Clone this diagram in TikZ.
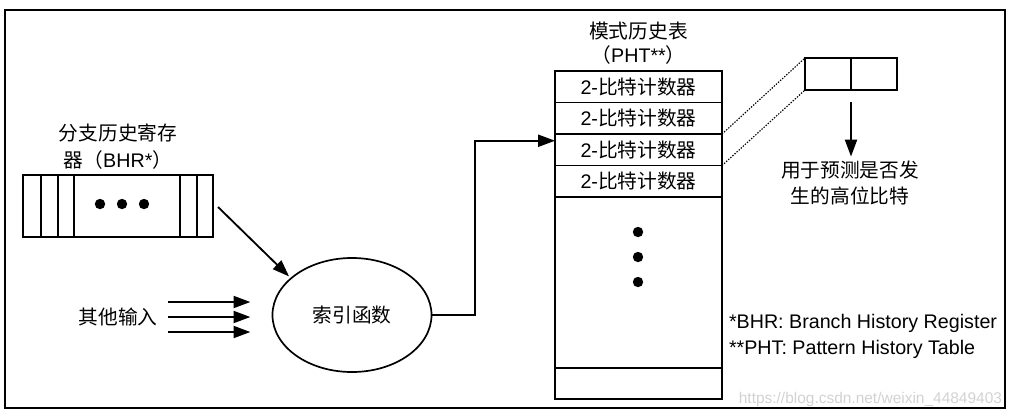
\documentclass[tikz,border=0pt]{standalone}
\usepackage{fontspec}
\setmainfont{Liberation Sans}
\newfontfamily\cjk{Noto Sans CJK SC}
\usetikzlibrary{positioning,shapes.geometric,calc,arrows.meta}

\begin{document}
\begin{tikzpicture}[
    x=0.025cm, y=-0.025cm,
    every node/.style={font=\fontsize{14pt}{19pt}\selectfont, inner sep=0pt, outer sep=0pt},
    box/.style={draw, line width=1.2pt},
    row/.style={box, minimum width=4.175cm, minimum height=0.7875cm},
    cell/.style={box, minimum width=1.15cm, minimum height=0.8cm},
    arr/.style={-{Triangle[length=4.2mm,width=3mm]}, line width=1.3pt},
    dot/.style={fill=black}
]
    \useasboundingbox (0,0) rectangle (1014,416);
    \draw[line width=1.6pt] (5,10) rectangle (1005,408);

    % Branch history register
    \node[box, minimum width=4.75cm, minimum height=1.55cm] (bhr) at (118,206) {};
    \foreach \dx in {18,35,51,157,174}
        \draw[line width=1.2pt] ($(bhr.north west)+(\dx,0)$) -- ($(bhr.south west)+(\dx,0)$);
    \foreach \x in {100,122,144}
        \fill[dot] (\x,204) circle[radius=0.13cm];
    \node[align=center, above=4pt of bhr] (bhrlabel) {{\cjk 分支历史寄存}\\{\cjk 器（}BHR*{\cjk ）}};

    % Index function
    \node[box, ellipse, minimum width=3.975cm, minimum height=2.85cm] (idx) at (352,315) {\cjk 索引函数};
    \node (other) at (118,317) {\cjk 其他输入};
    \foreach \dy in {-15,0,15}
        \draw[arr] ($(other.east)+(11,\dy)$) -- ($(other.east)+(93,\dy)$);
    \draw[arr, shorten >=2pt] ($(bhr.east)+(5,1)$) -- (idx.149);

    % Pattern history table
    \foreach \i in {1,...,4}
        \node[row] (r\i) at (638.5,55.25+31.5*\i) {2-{\cjk 比特计数器}};
    \node[row, minimum height=4.275cm, below=0pt of r4] (rest) {};
    \node[row, minimum height=0.775cm, below=0pt of rest] (last) {};
    \foreach \y in {232,257,282}
        \fill[dot] (638,\y) circle[radius=0.13cm];
    \node[align=center, font=\fontsize{14pt}{16.5pt}\selectfont, above=5pt of r1] (phtlabel) {{\cjk 模式历史表}\\{\cjk （}PHT**{\cjk ）}};
    \draw[arr] (idx.east) -- (475,315) |- ($(r3.west)+(0,-9)$);

    % Selected counter
    \node[cell] (b1) at (828,74) {};
    \node[cell, right=0pt of b1] (b2) {};
    \draw[dash pattern=on 1pt off 1pt, line width=0.8pt] (r3.north east) -- (b1.north west);
    \draw[dash pattern=on 1pt off 1pt, line width=0.8pt] (r3.south east) -- (b1.south west);
    \node[align=center] (use) at (850,183) {{\cjk 用于预测是否发}\\{\cjk 生的高位比特}};
    \draw[arr] ($(b1.south east)+(0,12)$) -- ($(use.north)+(1,-4)$);

    % Notes
    \node[anchor=west, align=left, font=\fontsize{14pt}{18.5pt}\selectfont] (notes) at (729,336)
        {*BHR: Branch History Register\\**PHT: Pattern History Table};
    \node[anchor=east, text=gray!35, font=\fontsize{11pt}{13pt}\selectfont] (mark) at (1002,399)
        {https://blog.csdn.net/weixin\_44849403};
\end{tikzpicture}
\end{document}
